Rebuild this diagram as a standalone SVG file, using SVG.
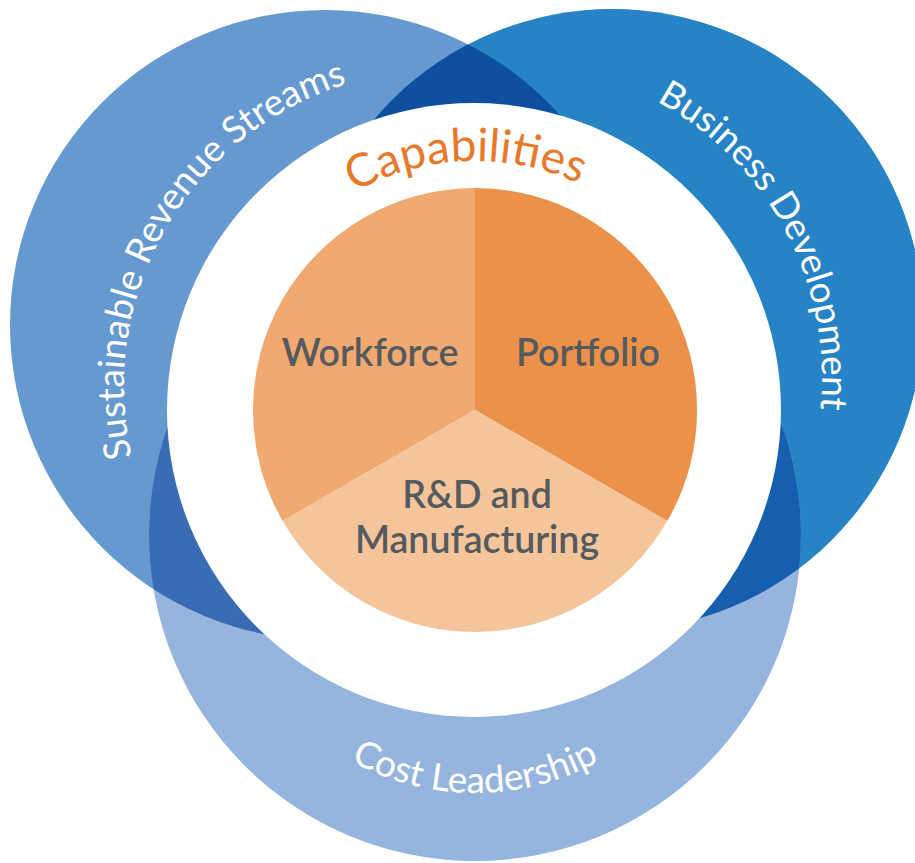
<svg xmlns="http://www.w3.org/2000/svg" width="915" height="863" viewBox="0 0 915 863">
  <style>
    .ring-label { font-family: Lato, "Open Sans", "Liberation Sans", sans-serif; font-size: 37px; fill: #ffffff; }
    .cap-label { font-family: Lato, "Open Sans", "Liberation Sans", sans-serif; font-size: 46px; fill: #e8792b; }
    .pie-label { font-family: Lato, "Open Sans", "Liberation Sans", sans-serif; font-size: 37.5px; font-weight: 600; fill: #555a5e; text-anchor: middle; }
  </style>
  <defs>
    <clipPath id="clipLeft"><circle cx="325" cy="325" r="315"/></clipPath>
    <clipPath id="clipRight"><circle cx="612" cy="320" r="311"/></clipPath>
    <path id="arcLeft" d="M282,659.7 A316,316 0 0 1 598,112.3"/>
    <path id="arcRight" d="M357.6,100 A316,316 0 0 1 654.4,658"/>
    <path id="arcBottom" d="M217,535 A258,258 0 0 0 733,535"/>
    <path id="arcCap" d="M226,410 A249,249 0 0 1 724,410"/>
  </defs>

  <g id="circle-sustainable-revenue-streams">
    <circle cx="325" cy="325" r="315" fill="#6699d0"/>
  </g>
  <g id="circle-business-development">
    <circle cx="612" cy="320" r="311" fill="#2684c6"/>
  </g>
  <g id="circle-cost-leadership">
    <circle cx="475" cy="535" r="326" fill="#96b5de"/>
  </g>
  <g id="overlaps">
    <circle cx="612" cy="320" r="311" fill="#0e4fa0" clip-path="url(#clipLeft)"/>
    <circle cx="475" cy="535" r="326" fill="#3a6cb5" clip-path="url(#clipLeft)"/>
    <circle cx="475" cy="535" r="326" fill="#155fae" clip-path="url(#clipRight)"/>
  </g>

  <g id="capabilities">
    <circle cx="474" cy="410" r="307" fill="#ffffff"/>
    <text class="cap-label" text-anchor="middle"><textPath href="#arcCap" startOffset="48.8%">Capabilities</textPath></text>
  </g>

  <g id="workforce">
    <path d="M475,410 L475,188 A222,222 0 0 0 282.7,521 Z" fill="#f0a970"/>
    <text class="pie-label" x="370" y="366">Workforce</text>
  </g>
  <g id="portfolio">
    <path d="M475,410 L475,188 A222,222 0 0 1 667.3,521 Z" fill="#eb914a"/>
    <text class="pie-label" x="588" y="366">Portfolio</text>
  </g>
  <g id="rnd-manufacturing">
    <path d="M475,410 L667.3,521 A222,222 0 0 1 282.7,521 Z" fill="#f4c49b"/>
    <text class="pie-label" x="477" y="508">R&amp;D and</text>
    <text class="pie-label" x="477" y="553">Manufacturing</text>
  </g>

  <g id="ring-labels">
    <text class="ring-label" text-anchor="middle"><textPath href="#arcLeft" startOffset="50%">Sustainable Revenue Streams</textPath></text>
    <text class="ring-label" text-anchor="middle"><textPath href="#arcRight" startOffset="50%">Business Development</textPath></text>
    <text class="ring-label" text-anchor="middle"><textPath href="#arcBottom" startOffset="50%">Cost Leadership</textPath></text>
  </g>

  <g id="connectors"/>
</svg>
